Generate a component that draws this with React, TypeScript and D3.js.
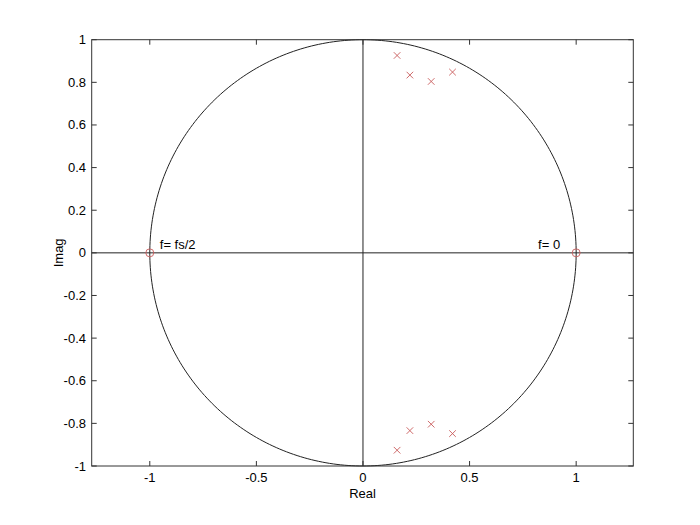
import * as d3 from "d3"

const xTicks = [-1, -0.5, 0, 0.5, 1]
const yTicks = [-1, -0.8, -0.6, -0.4, -0.2, 0, 0.2, 0.4, 0.6, 0.8, 1]
const poleRe = [0.16, 0.22, 0.32, 0.42, 0.16, 0.22, 0.32, 0.42]
const poleIm = [0.926, 0.834, 0.804, 0.848, -0.926, -0.834, -0.804, -0.848]
const zeroRe = [-1, 1]
const zeroIm = [0, 0]
const notes = [
  { re: -1, im: 0, text: "f= fs/2", anchor: "start", dx: 10 },
  { re: 1, im: 0, text: "f= 0", anchor: "end", dx: -16 },
]

const W = 700, H = 525
const L = 91.7, R = 633.3, T = 39.7, B = 466
const FONT = "Arial, 'Liberation Sans', sans-serif"

export default function App() {
  const x = d3.scaleLinear().domain([-1.2725, 1.268]).range([L, R])
  const y = d3.scaleLinear().domain([-1, 1]).range([B, T])
  const circle = d3.line<number>()
    .x(a => x(Math.cos(a)))
    .y(a => y(Math.sin(a)))
  const angles = d3.range(0, 361).map(d => (d * Math.PI) / 180)
  const tk = 5
  const red = "#c85a5a"
  const axisCol = "#333"

  return (
    <svg width={W} height={H} style={{ position: "absolute", left: 0, top: 0, background: "#fff" }}
      fontFamily={FONT}>
      <rect x={0} y={0} width={W} height={H} fill="#fff" />
      {/* unit circle and axes through origin */}
      <path d={circle(angles) || ""} fill="none" stroke="#222" strokeWidth={1} />
      <line x1={L} x2={R} y1={y(0)} y2={y(0)} stroke="#222" />
      <line x1={x(0)} x2={x(0)} y1={T} y2={B} stroke="#222" />

      {/* frame and ticks */}
      <rect x={L} y={T} width={R - L} height={B - T} fill="none" stroke={axisCol} strokeWidth={1} />
      {xTicks.map(t => (
        <g key={"x" + t}>
          <line x1={x(t)} x2={x(t)} y1={B} y2={B - tk} stroke={axisCol} />
          <line x1={x(t)} x2={x(t)} y1={T} y2={T + tk} stroke={axisCol} />
          <text x={x(t)} y={482} textAnchor="middle" fontSize={13} fill="#000">{t}</text>
        </g>
      ))}
      {yTicks.map(t => (
        <g key={"y" + t}>
          <line x1={L} x2={L + tk} y1={y(t)} y2={y(t)} stroke={axisCol} />
          <line x1={R} x2={R - tk} y1={y(t)} y2={y(t)} stroke={axisCol} />
          <text x={86} y={y(t) + 4.5} textAnchor="end" fontSize={13} fill="#000">{t}</text>
        </g>
      ))}
      <text x={(L + R) / 2} y={498} textAnchor="middle" fontSize={13} fill="#000">Real</text>
      <text transform={`translate(63,${y(0)}) rotate(-90)`} textAnchor="middle" fontSize={13} fill="#000">Imag</text>

      {/* zeros */}
      {zeroRe.map((re, i) => (
        <circle key={"z" + i} cx={x(re)} cy={y(zeroIm[i])} r={4} fill="none" stroke={red} strokeWidth={0.9} />
      ))}
      {/* poles */}
      {poleRe.map((re, i) => {
        const cx = x(re), cy = y(poleIm[i]), s = 3.3
        return (
          <path key={"p" + i} d={`M${cx - s},${cy - s}L${cx + s},${cy + s}M${cx - s},${cy + s}L${cx + s},${cy - s}`}
            stroke={red} strokeWidth={0.9} fill="none" />
        )
      })}
      {notes.map(n => (
        <text key={n.text} x={x(n.re) + n.dx} y={y(n.im) - 4} textAnchor={n.anchor as any} fontSize={13} fill="#000">{n.text}</text>
      ))}
    </svg>
  )
}
